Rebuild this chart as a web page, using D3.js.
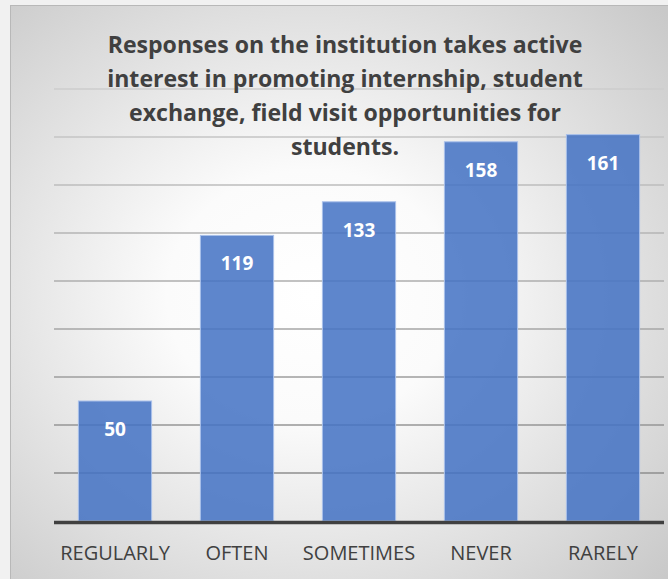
<!DOCTYPE html>
<html lang="en">
<head>
  <meta charset="UTF-8">
  <title>Responses - internship, student exchange, field visit</title>
  <script src="https://d3js.org/d3.v7.min.js"></script>
  <style>
    body {
      margin: 0;
      background: #f1f1f1;
      font-family: "Open Sans", Arial, sans-serif;
    }
    svg { display: block; }
  </style>
</head>
<body>
  <svg width="668" height="579"></svg>

  <script>
    // data
    const categories = ["REGULARLY", "OFTEN", "SOMETIMES", "NEVER", "RARELY"];
    const responses = [50, 119, 133, 158, 161];
    const gridValues = [20, 40, 60, 80, 100, 120, 140, 160, 180];
    const titleLines = [
      "Responses on the institution takes active",
      "interest in promoting internship, student",
      "exchange, field visit opportunities for",
      "students."
    ];

    const svg = d3.select("svg"),
          width = +svg.attr("width"),
          height = +svg.attr("height");

    const plot = {left: 54, right: 664, top: 89, bottom: 521};

    // panel background with radial shading
    const defs = svg.append("defs");
    const grad = defs.append("radialGradient")
      .attr("id", "panelGrad")
      .attr("cx", "45%").attr("cy", "50%").attr("r", "72%");
    grad.append("stop").attr("offset", "0%").attr("stop-color", "#ffffff");
    grad.append("stop").attr("offset", "30%").attr("stop-color", "#fbfbfb");
    grad.append("stop").attr("offset", "100%").attr("stop-color", "#c9c9c9");

    svg.append("rect")
      .attr("x", 10.5).attr("y", 5.5)
      .attr("width", width).attr("height", height)
      .attr("fill", "url(#panelGrad)")
      .attr("stroke", "#b8b8b8");

    const x = d3.scaleBand()
      .domain(categories)
      .range([plot.left, plot.right])
      .paddingInner(0.4)
      .paddingOuter(0.2);

    const y = d3.scaleLinear()
      .domain([0, 180])
      .range([plot.bottom, plot.top]);

    // gridlines get lighter towards the top
    const gridColor = d3.scaleLinear()
      .domain([20, 180])
      .range(["#8e8e8e", "#cdcdcd"]);

    svg.append("g")
      .selectAll("line")
      .data(gridValues)
      .join("line")
      .attr("x1", plot.left)
      .attr("x2", plot.right)
      .attr("y1", d => y(d))
      .attr("y2", d => y(d))
      .attr("stroke", d => gridColor(d))
      .attr("stroke-width", 1.6);

    // bars (slightly see-through, like the original)
    svg.append("g")
      .selectAll("rect")
      .data(responses)
      .join("rect")
      .attr("x", (d, i) => x(categories[i]))
      .attr("y", d => y(d))
      .attr("width", x.bandwidth())
      .attr("height", d => y(0) - y(d))
      .attr("fill", "#4472c4")
      .attr("fill-opacity", 0.86)
      .attr("stroke", "#a9c0ea")
      .attr("stroke-width", 1);

    // value labels inside bars
    svg.append("g")
      .selectAll("text")
      .data(responses)
      .join("text")
      .attr("x", (d, i) => x(categories[i]) + x.bandwidth() / 2)
      .attr("y", d => y(d) + 35)
      .attr("text-anchor", "middle")
      .attr("fill", "#ffffff")
      .style("font-size", "19px")
      .style("font-weight", "bold")
      .text(d => d);

    // x axis
    const xAxis = svg.append("g")
      .attr("transform", `translate(0,${plot.bottom})`)
      .call(d3.axisBottom(x).tickSize(0).tickPadding(25));
    xAxis.select(".domain")
      .attr("d", `M${plot.left},1.5H${plot.right}`)
      .attr("stroke", "#404040")
      .attr("stroke-width", 3.5);
    xAxis.selectAll("text")
      .attr("fill", "#404040")
      .style("font-family", "'Open Sans', Arial, sans-serif")
      .style("font-size", "20px");

    // title, squeezed horizontally like the narrow original font
    const title = svg.append("g");
    const titleText = title.selectAll("text")
      .data(titleLines)
      .join("text")
      .attr("x", 0)
      .attr("y", (d, i) => 53 + i * 34)
      .attr("text-anchor", "middle")
      .attr("fill", "#404040")
      .style("font-size", "23.5px")
      .style("font-weight", "bold")
      .text(d => d);
    const w0 = titleText.node().getComputedTextLength();
    title.attr("transform", `translate(345,0) scale(${475 / w0},1)`);
  </script>
</body>
</html>
